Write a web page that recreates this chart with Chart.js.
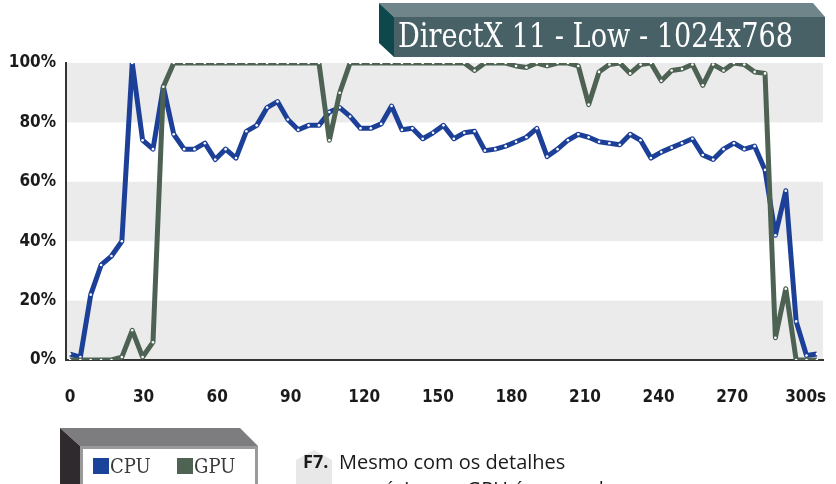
<!DOCTYPE html>
<html>
<head>
<meta charset="utf-8">
<script src="https://cdn.jsdelivr.net/npm/chart.js@4"></script>
<style>
  body { margin: 0; background: #fff; }
  #page { position: relative; width: 836px; height: 484px; overflow: hidden; background: #fff; }
  #chart { position: absolute; left: 0; top: 0; }
  #deco { position: absolute; left: 0; top: 0; }
  .txt { position: absolute; white-space: nowrap; line-height: 1; }
  #title { left: 398px; top: 19px; font-family: "DejaVu Serif Condensed", "DejaVu Serif", serif; font-size: 33px; line-height: 33px; color: #fff; transform-origin: 0 0; }
  .leg { font-family: "DejaVu Serif Condensed", "DejaVu Serif", serif; font-size: 20px; color: #3a3a3a; top: 456px; }
  #fig { left: 303px; top: 452px; font-family: "Open Sans", sans-serif; font-weight: bold; font-size: 18px; color: #1a1a1a; }
  #caption { left: 339px; top: 448px; font-family: "Open Sans", sans-serif; font-size: 20px; line-height: 27px; color: #1a1a1a; }
</style>
</head>
<body>
<div id="page">
  <canvas id="chart" width="836" height="484"></canvas>
  <svg id="deco" width="836" height="484">
    <!-- title box -->
    <polygon points="379,3 813,3 825,17 394,17" fill="#6f8589"/>
    <polygon points="379,3 394,17 394,57 379,43" fill="#0e474c"/>
    <rect x="394" y="17" width="431" height="40" fill="#476167"/>
    <!-- legend box -->
    <polygon points="60,428 240,428 258,446 80,446" fill="#7d7d80"/>
    <polygon points="60,428 80,446 80,490 60,490" fill="#2e2a2e"/>
    <rect x="81.5" y="447.5" width="175" height="45" fill="#fff" stroke="#9a9a9a" stroke-width="3"/>
    <rect x="93" y="458" width="16" height="16" fill="#1a4399"/>
    <rect x="177" y="458" width="16" height="16" fill="#4f6353"/>
    <!-- caption icon -->
    <polygon points="314,450 332,460 332,484 314,494 296,484 296,460" fill="#e8e8e8"/>
  </svg>
  <div class="txt" id="title">DirectX 11 - Low - 1024x768</div>
  <div class="txt leg" style="left:110px">CPU</div>
  <div class="txt leg" style="left:194px">GPU</div>
  <div class="txt" id="fig">F7.</div>
  <div class="txt" id="caption">Mesmo com os detalhes<br>no mínimo, a GPU é o gargalo</div>
</div>
<script>
// one sample every ~4.2 s
const sampleStep = 4.23;
const cpuLoad = [2, 1, 22, 32, 35, 40, 100, 74, 71, 92,
  76, 71, 71, 73, 67.5, 71, 68, 77, 79, 85,
  87, 81, 77.5, 79, 79, 83.5, 85, 82, 78, 78,
  79.5, 85.5, 77.5, 78, 74.5, 76.5, 79, 74.5, 76.5, 77,
  70.5, 71, 72, 73.5, 75, 78, 68.5, 71, 74, 76,
  75, 73.5, 73, 72.5, 76, 74, 68, 70, 71.5, 73,
  74.5, 69, 67.5, 71, 73, 71, 72, 64, 42, 57,
  13, 1.5, 2];
const gpuLoad = [0, 0, 0, 0, 0, 1, 10, 1, 6, 92,
  100, 100, 100, 100, 100, 100, 100, 100, 100, 100,
  100, 100, 100, 100, 100, 74, 90, 100, 100, 100,
  100, 100, 100, 100, 100, 100, 100, 100, 100, 97.5,
  100, 100, 100, 99, 98.5, 100, 99, 100, 100, 99,
  86, 97, 99.5, 100, 96.5, 99.5, 100, 94, 97.5, 98,
  99.5, 92.5, 99.5, 97.5, 100, 99.5, 97, 96.5, 7.5, 24,
  0, 0, 0];
const yTicks = [0, 20, 40, 60, 80, 100];
const shadedBands = [[0, 20], [40, 60], [80, 100]];

const toPoints = arr => arr.map((v, i) => ({ x: i * sampleStep, y: v }));

const bandPlugin = {
  id: 'bands',
  beforeDraw(chart) {
    const { ctx, chartArea, scales } = chart;
    ctx.save();
    ctx.fillStyle = '#ebebeb';
    shadedBands.forEach(b => {
      const top = scales.y.getPixelForValue(b[1]);
      const bottom = scales.y.getPixelForValue(b[0]);
      ctx.fillRect(chartArea.left, top, chartArea.right - chartArea.left, bottom - top);
    });
    ctx.restore();
  }
};

const tickFont = { family: '"DejaVu Sans Condensed", sans-serif', weight: 'bold', size: 17 };

new Chart(document.getElementById('chart'), {
  type: 'line',
  data: {
    datasets: [
      {
        label: 'CPU',
        data: toPoints(cpuLoad),
        borderColor: '#1c3f98',
        borderWidth: 5,
        pointRadius: 1.3,
        pointBackgroundColor: '#fff',
        pointBorderWidth: 0,
        borderJoinStyle: 'round',
        order: 1
      },
      {
        label: 'GPU',
        data: toPoints(gpuLoad),
        borderColor: '#4d6252',
        borderWidth: 5,
        pointRadius: 1.3,
        pointBackgroundColor: '#fff',
        pointBorderWidth: 0,
        borderJoinStyle: 'round',
        order: 0
      }
    ]
  },
  options: {
    responsive: false,
    animation: false,
    devicePixelRatio: 1,
    layout: { padding: { left: 0, top: 63, right: 13, bottom: 0 } },
    plugins: { legend: { display: false }, tooltip: { enabled: false } },
    scales: {
      x: {
        type: 'linear',
        min: -1.63,
        max: 307.05,
        grid: { display: false },
        border: { display: true, color: '#333', width: 2 },
        ticks: {
          stepSize: 30,
          includeBounds: false,
          padding: 19,
          color: '#1a1a1a',
          font: tickFont,
          maxRotation: 0,
          callback: v => (v === 300 ? '300s' : v)
        },
        afterFit: s => { s.height = 124; s.paddingLeft = 0; s.paddingRight = 0; }
      },
      y: {
        min: 0,
        max: 100,
        grid: { display: false },
        border: { display: true, color: '#333', width: 2 },
        afterBuildTicks: s => { s.ticks = yTicks.map(v => ({ value: v })); },
        ticks: {
          padding: 2,
          color: '#1a1a1a',
          font: { family: '"DejaVu Sans Condensed", sans-serif', weight: 'bold', size: 17 },
          callback: v => v + '%'
        },
        afterFit: s => { s.width = 66; s.paddingTop = 0; s.paddingBottom = 0; }
      }
    }
  },
  plugins: [bandPlugin]
});

// squeeze the title to the width of its box
const title = document.getElementById('title');
const tw = title.getBoundingClientRect().width;
title.style.transform = 'scaleX(' + (395 / tw) + ')';
</script>
</body>
</html>
